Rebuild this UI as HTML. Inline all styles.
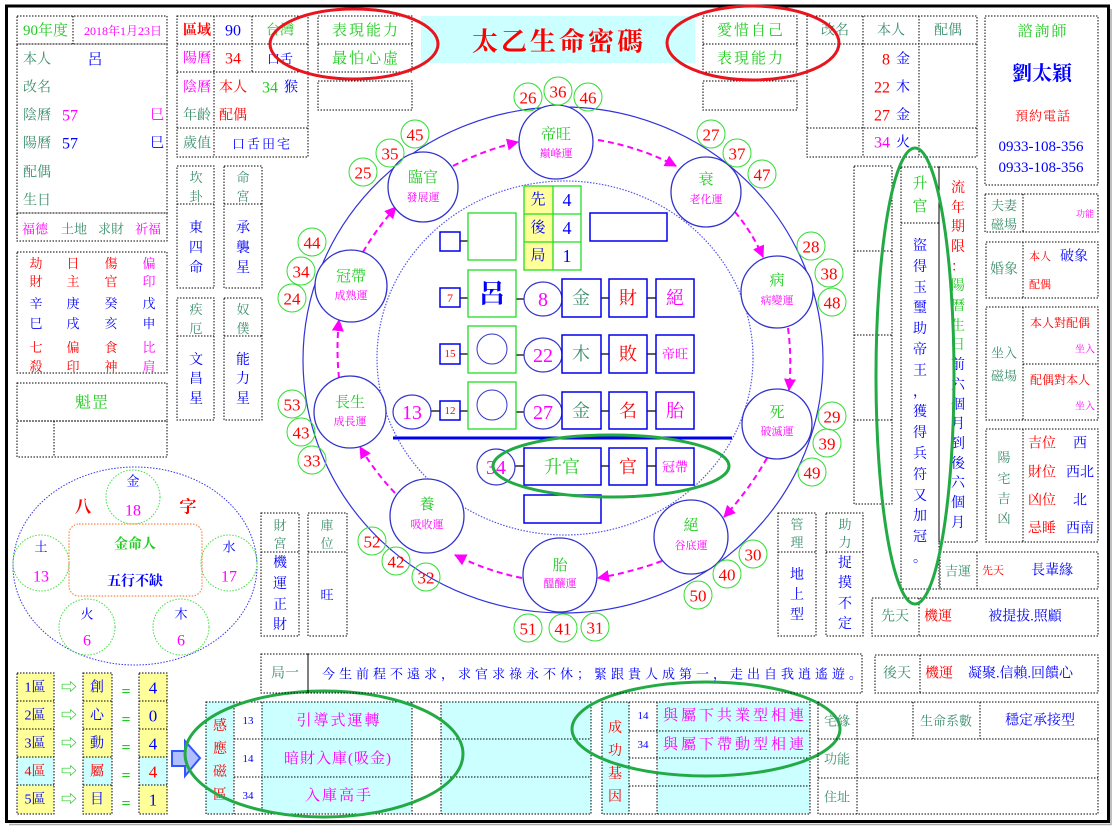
<!DOCTYPE html>
<html><head><meta charset="utf-8">
<style>
html,body{margin:0;padding:0;background:#fff;}
svg{display:block;}
text{font-family:"Liberation Serif","Noto Serif CJK SC",serif;dominant-baseline:central;}
.c{text-anchor:middle}
.e{text-anchor:end}
.tl{fill:#3d8f6d}
.g{fill:#22cc22}
.r{fill:#ff0000}
.m{fill:#ff00ff}
.b{fill:#0000ff}
.d{fill:none;stroke:#000;stroke-width:1;stroke-dasharray:1.5 1.5}
.nc{fill:none;stroke:#33dd33;stroke-width:1}
.nd{fill:#fff;stroke:#3333cc;stroke-width:1.3}
.bx{fill:#fff;stroke:#0000ee;stroke-width:1.5}
.gb{fill:#fff;stroke:#22dd22;stroke-width:1.3}
.ln{stroke:#000;stroke-width:1.2}
.ar{fill:none;stroke:#ff00ff;stroke-width:2;stroke-dasharray:6 4}
</style></head>
<body>
<svg width="1115" height="833" viewBox="0 0 1115 833" xmlns="http://www.w3.org/2000/svg">
<defs>
<marker id="ah" markerUnits="userSpaceOnUse" markerWidth="12" markerHeight="12" refX="11" refY="6" orient="auto">
<path d="M0,0 L12,6 L0,12 Z" fill="#ff00ff"/>
</marker>
</defs>
<rect x="0" y="0" width="1115" height="833" fill="#fff"/>
<rect x="6.5" y="6" width="1102" height="815.5" fill="none" stroke="#000" stroke-width="3"/>
<path d="M9 824.5H1111V9" fill="none" stroke="#aaa" stroke-width="1.5"/>

<!-- ===== TOP LEFT ===== -->
<rect class="d" x="17" y="16" width="150" height="28"/>
<path class="d" d="M73 16V44"/>
<text x="23" y="31" class="g" font-size="15">90年度</text>
<text x="123" y="31" class="c m" font-size="12">2018年1月23日</text>
<rect class="d" x="17" y="44" width="150" height="169"/>
<text x="23" y="60" class="tl" font-size="14">本人</text>
<text x="95" y="60" class="c b" font-size="15">呂</text>
<text x="23" y="88" class="tl" font-size="14">改名</text>
<text x="23" y="116" class="tl" font-size="14">陰曆</text>
<text x="62" y="116" class="m" font-size="16">57</text>
<text x="150" y="116" class="m" font-size="14">巳</text>
<text x="23" y="144" class="tl" font-size="14">陽曆</text>
<text x="62" y="144" class="b" font-size="16">57</text>
<text x="150" y="144" class="b" font-size="14">巳</text>
<text x="23" y="173" class="tl" font-size="14">配偶</text>
<text x="23" y="201" class="tl" font-size="14">生日</text>
<rect class="d" x="17" y="213" width="150" height="28"/>
<text x="22" y="229" class="m" font-size="13">福德</text>
<text x="61" y="229" class="tl" font-size="13">土地</text>
<text x="98" y="229" class="tl" font-size="13">求財</text>
<text x="135" y="229" class="m" font-size="13">祈福</text>

<!-- region box -->
<rect class="d" x="177" y="16" width="131" height="141"/>
<path class="d" d="M177 44H308M177 72H308M177 128H308M214 16V157M252 16V72"/>
<text x="183" y="31" class="r" font-size="14" font-weight="bold">區域</text>
<text x="233" y="31" class="c b" font-size="16">90</text>
<text x="280" y="31" class="c g" font-size="14">台灣</text>
<text x="183" y="59" class="m" font-size="14">陽曆</text>
<text x="233" y="59" class="c r" font-size="16">34</text>
<text x="280" y="59" class="c b" font-size="13">口舌</text>
<text x="183" y="88" class="m" font-size="14">陰曆</text>
<text x="219" y="88" class="r" font-size="14">本人</text>
<text x="270" y="88" class="c g" font-size="16">34</text>
<text x="291" y="88" class="c b" font-size="14">猴</text>
<text x="183" y="116" class="tl" font-size="14">年齡</text>
<text x="219" y="116" class="r" font-size="14">配偶</text>
<text x="183" y="144" class="tl" font-size="14">歲值</text>
<text x="262" y="144" class="c b" font-size="13" letter-spacing="2">口舌田宅</text>

<rect class="d" x="318" y="16" width="94" height="56"/>
<path class="d" d="M318 44H412"/>
<text x="366" y="31" class="c g" font-size="15" letter-spacing="2">表現能力</text>
<text x="366" y="59" class="c g" font-size="15" letter-spacing="2">最怕心虛</text>
<rect class="d" x="318" y="81" width="94" height="29"/>

<!-- title -->
<rect x="421" y="16" width="274" height="47" fill="#ccffff"/>
<text x="559" y="42" class="c r" font-size="26" font-weight="bold" letter-spacing="3">太乙生命密碼</text>

<rect class="d" x="703" y="16" width="94" height="56"/>
<path class="d" d="M703 44H797"/>
<text x="751" y="31" class="c g" font-size="15" letter-spacing="2">愛惜自己</text>
<text x="751" y="59" class="c g" font-size="15" letter-spacing="2">表現能力</text>
<rect class="d" x="703" y="81" width="94" height="29"/>

<!-- name box -->
<rect class="d" x="807" y="16" width="170" height="141"/>
<path class="d" d="M807 44H977M807 128H977M863 16V157M919 16V157"/>
<text x="835" y="31" class="c tl" font-size="14">改名</text>
<text x="891" y="31" class="c tl" font-size="14">本人</text>
<text x="948" y="31" class="c tl" font-size="14">配偶</text>
<text x="890" y="60" class="e r" font-size="16">8</text>
<text x="896" y="60" class="b" font-size="14">金</text>
<text x="890" y="88" class="e r" font-size="16">22</text>
<text x="896" y="88" class="b" font-size="14">木</text>
<text x="890" y="116" class="e r" font-size="16">27</text>
<text x="896" y="116" class="b" font-size="14">金</text>
<text x="890" y="143" class="e m" font-size="16">34</text>
<text x="896" y="143" class="b" font-size="14">火</text>

<!-- consultant -->
<rect class="d" x="985" y="16" width="113" height="169"/>
<text x="1043" y="32" class="c g" font-size="15" letter-spacing="2">諮詢師</text>
<text x="1042" y="74" class="c b" font-size="20" font-weight="bold">劉太穎</text>
<text x="1043" y="116" class="c r" font-size="13" letter-spacing="1">預約電話</text>
<text x="1041" y="147" class="c b" font-size="15">0933-108-356</text>
<text x="1041" y="168" class="c b" font-size="15">0933-108-356</text>

<!-- red ellipses -->
<ellipse cx="354" cy="44" rx="84" ry="35" fill="none" stroke="#e8141e" stroke-width="3"/>
<ellipse cx="753" cy="43" rx="86" ry="37" fill="none" stroke="#e8141e" stroke-width="3"/>

<!-- ===== LEFT COLUMN ===== -->
<rect class="d" x="177" y="166" width="37" height="122"/>
<path class="d" d="M177 204H214"/>
<text class="c tl" font-size="13"><tspan x="196" y="177">坎</tspan><tspan x="196" y="196">卦</tspan></text>
<text class="c b" font-size="14"><tspan x="196" y="228">東</tspan><tspan x="196" y="248">四</tspan><tspan x="196" y="268">命</tspan></text>
<rect class="d" x="224" y="166" width="38" height="122"/>
<path class="d" d="M224 204H262"/>
<text class="c tl" font-size="13"><tspan x="243" y="177">命</tspan><tspan x="243" y="196">宮</tspan></text>
<text class="c b" font-size="14"><tspan x="243" y="228">承</tspan><tspan x="243" y="248">襲</tspan><tspan x="243" y="268">星</tspan></text>

<rect class="d" x="177" y="298" width="37" height="122"/>
<path class="d" d="M177 336H214"/>
<text class="c tl" font-size="13"><tspan x="196" y="309">疾</tspan><tspan x="196" y="328">厄</tspan></text>
<text class="c b" font-size="14"><tspan x="196" y="360">文</tspan><tspan x="196" y="379">昌</tspan><tspan x="196" y="399">星</tspan></text>
<rect class="d" x="224" y="298" width="38" height="122"/>
<path class="d" d="M224 336H262"/>
<text class="c tl" font-size="13"><tspan x="243" y="309">奴</tspan><tspan x="243" y="328">僕</tspan></text>
<text class="c b" font-size="14"><tspan x="243" y="360">能</tspan><tspan x="243" y="379">力</tspan><tspan x="243" y="399">星</tspan></text>

<!-- bazi table -->
<rect class="d" x="17" y="252" width="150" height="121"/>
<g font-size="13" class="c">
<text class="r"><tspan x="36" y="263">劫</tspan><tspan x="36" y="281">財</tspan></text>
<text class="r"><tspan x="73" y="263">日</tspan><tspan x="73" y="281">主</tspan></text>
<text class="r"><tspan x="111" y="263">傷</tspan><tspan x="111" y="281">官</tspan></text>
<text class="m"><tspan x="149" y="263">偏</tspan><tspan x="149" y="281">印</tspan></text>
<text class="b"><tspan x="36" y="303">辛</tspan><tspan x="36" y="323">巳</tspan></text>
<text class="b"><tspan x="73" y="303">庚</tspan><tspan x="73" y="323">戌</tspan></text>
<text class="b"><tspan x="111" y="303">癸</tspan><tspan x="111" y="323">亥</tspan></text>
<text class="b"><tspan x="149" y="303">戊</tspan><tspan x="149" y="323">申</tspan></text>
<text class="r"><tspan x="36" y="347">七</tspan><tspan x="36" y="366">殺</tspan></text>
<text class="r"><tspan x="73" y="347">偏</tspan><tspan x="73" y="366">印</tspan></text>
<text class="r"><tspan x="111" y="347">食</tspan><tspan x="111" y="366">神</tspan></text>
<text class="m"><tspan x="149" y="347">比</tspan><tspan x="149" y="366">肩</tspan></text>
</g>
<rect class="d" x="17" y="383" width="150" height="38"/>
<text x="92" y="403" class="c g" font-size="16" letter-spacing="1">魁罡</text>
<rect class="d" x="17" y="421" width="150" height="36"/>
<path class="d" d="M54 421V457"/>

<!-- bazi circle -->
<ellipse cx="135" cy="566" rx="122" ry="99" fill="none" stroke="#3333ee" stroke-width="1" stroke-dasharray="1.5 1.5"/>
<g fill="none" stroke="#44dd44" stroke-width="1" stroke-dasharray="1.5 1.5">
<circle cx="133" cy="497" r="27"/>
<circle cx="41" cy="563" r="28"/>
<circle cx="229" cy="563" r="28"/>
<circle cx="87" cy="627" r="28"/>
<circle cx="181" cy="627" r="28"/>
</g>
<rect x="69" y="524" width="133" height="72" rx="10" fill="none" stroke="#ff8844" stroke-width="1.2" stroke-dasharray="1.5 1.5"/>
<text x="133" y="481" class="c b" font-size="13">金</text>
<text x="133" y="511" class="c m" font-size="16">18</text>
<text x="41" y="547" class="c b" font-size="13">土</text>
<text x="41" y="577" class="c m" font-size="16">13</text>
<text x="229" y="547" class="c b" font-size="13">水</text>
<text x="229" y="577" class="c m" font-size="16">17</text>
<text x="87" y="614" class="c b" font-size="13">火</text>
<text x="87" y="641" class="c m" font-size="16">6</text>
<text x="181" y="614" class="c b" font-size="13">木</text>
<text x="181" y="641" class="c m" font-size="16">6</text>
<text x="83" y="507" class="c r" font-size="17" font-weight="bold">八</text>
<text x="188" y="507" class="c r" font-size="17" font-weight="bold">字</text>
<text x="135" y="545" class="c g" font-size="14" font-weight="bold">金命人</text>
<text x="135" y="582" class="c b" font-size="14" font-weight="bold">五行不缺</text>

<!-- bottom left -->
<g>
<rect x="17" y="673" width="37" height="84" fill="#ffff99"/><rect x="17" y="757" width="37" height="28" fill="#ccffff"/><rect x="17" y="785" width="37" height="29" fill="#ffff99"/>
<rect x="83" y="673" width="29" height="84" fill="#ffff99"/><rect x="83" y="757" width="29" height="28" fill="#ccffff"/><rect x="83" y="785" width="29" height="29" fill="#ffff99"/>
<rect x="139" y="673" width="28" height="84" fill="#ffff99"/><rect x="139" y="757" width="28" height="28" fill="#ccffff"/><rect x="139" y="785" width="28" height="29" fill="#ffff99"/>
<rect class="d" x="17" y="673" width="37" height="141"/><path class="d" d="M17 701H54M17 729H54M17 757H54M17 785H54"/>
<rect class="d" x="83" y="673" width="29" height="141"/><path class="d" d="M83 701H112M83 729H112M83 757H112M83 785H112"/>
<rect class="d" x="139" y="673" width="28" height="141"/><path class="d" d="M139 701H167M139 729H167M139 757H167M139 785H167"/>
</g>
<g font-size="14" class="c">
<text x="35" y="688" class="b">1區</text><text x="35" y="716" class="b">2區</text><text x="35" y="744" class="b">3區</text><text x="35" y="772" class="r">4區</text><text x="35" y="800" class="b">5區</text>
<text x="69" y="688" class="g" font-size="16">⇨</text><text x="69" y="716" class="g" font-size="16">⇨</text><text x="69" y="744" class="g" font-size="16">⇨</text><text x="69" y="772" class="g" font-size="16">⇨</text><text x="69" y="800" class="g" font-size="16">⇨</text>
<text x="97" y="688" class="b">創</text><text x="97" y="716" class="b">心</text><text x="97" y="744" class="b">動</text><text x="97" y="772" class="r">屬</text><text x="97" y="800" class="b">目</text>
<text x="126" y="692" class="g" font-size="16" font-weight="bold">=</text><text x="126" y="720" class="g" font-size="16" font-weight="bold">=</text><text x="126" y="748" class="g" font-size="16" font-weight="bold">=</text><text x="126" y="776" class="g" font-size="16" font-weight="bold">=</text><text x="126" y="804" class="g" font-size="16" font-weight="bold">=</text>
<text x="153" y="688" class="b" font-size="17">4</text><text x="153" y="716" class="b" font-size="17">0</text><text x="153" y="744" class="b" font-size="17">4</text><text x="153" y="772" class="r" font-size="17">4</text><text x="153" y="800" class="b" font-size="17">1</text>
</g>
<polygon points="172,751 185,751 185,741 200,758 185,776 185,766 172,766" fill="#b0c0ff" stroke="#3355ff" stroke-width="2"/>

<!-- 感應磁區 table -->
<rect x="206" y="702" width="28" height="112" fill="#ccffff"/>
<rect x="262" y="702" width="150" height="112" fill="#ccffff"/>
<rect x="441" y="702" width="150" height="112" fill="#ccffff"/>
<rect class="d" x="206" y="702" width="385" height="112"/>
<path class="d" d="M234 702V814M262 702V814M412 702V814M441 702V814M234 739H591M234 777H591"/>
<text class="c r" font-size="14"><tspan x="220" y="726">感</tspan><tspan x="220" y="749">應</tspan><tspan x="220" y="772">磁</tspan><tspan x="220" y="795">區</tspan></text>
<text x="248" y="721" class="c b" font-size="11">13</text>
<text x="248" y="759" class="c b" font-size="11">14</text>
<text x="248" y="796" class="c b" font-size="11">34</text>
<text x="339" y="721" class="c m" font-size="15" letter-spacing="2">引導式運轉</text>
<text x="338" y="759" class="c m" font-size="15" letter-spacing="1">暗財入庫(吸金)</text>
<text x="339" y="796" class="c m" font-size="15" letter-spacing="2">入庫高手</text>
<ellipse cx="324" cy="754" rx="139" ry="63" fill="none" stroke="#22aa44" stroke-width="3"/>

<!-- 成功基因 table -->
<rect x="602" y="702" width="27" height="112" fill="#ccffff"/>
<rect x="657" y="702" width="153" height="112" fill="#ccffff"/>
<rect class="d" x="602" y="702" width="208" height="112"/>
<path class="d" d="M629 702V814M657 702V814M629 731H810M629 758H810M629 786H810"/>
<text class="c r" font-size="14"><tspan x="615" y="728">成</tspan><tspan x="615" y="751">功</tspan><tspan x="615" y="774">基</tspan><tspan x="615" y="797">因</tspan></text>
<text x="643" y="716" class="c b" font-size="11">14</text>
<text x="643" y="745" class="c b" font-size="11">34</text>
<text x="735" y="716" class="c m" font-size="15" letter-spacing="3">與屬下共業型相連</text>
<text x="735" y="745" class="c m" font-size="15" letter-spacing="3">與屬下帶動型相連</text>
<ellipse cx="706" cy="729" rx="134" ry="47" fill="none" stroke="#22aa44" stroke-width="3"/>

<!-- 宅緣 table -->
<rect class="d" x="818" y="702" width="280" height="112"/>
<path class="d" d="M857 702V814M913 702V739M980 702V739M818 739H1098M818 778H1098"/>
<text x="837" y="721" class="c tl" font-size="13">宅緣</text>
<text x="946" y="721" class="c tl" font-size="13">生命系數</text>
<text x="1040" y="721" class="c b" font-size="14">穩定承接型</text>
<text x="837" y="759" class="c tl" font-size="13">功能</text>
<text x="837" y="797" class="c tl" font-size="13">住址</text>

<!-- 局一 row -->
<rect class="d" x="261" y="654" width="47" height="39"/>
<rect class="d" x="308" y="654" width="554" height="39"/>
<text x="285" y="674" class="c tl" font-size="14">局一</text>
<text x="322" y="674" class="b" font-size="13" letter-spacing="4">今生前程不遠求，求官求祿永不休；緊跟貴人成第一，走出自我逍遙遊。</text>

<rect class="d" x="875" y="655" width="223" height="38"/>
<path class="d" d="M920 655V693"/>
<text x="897" y="674" class="c tl" font-size="14">後天</text>
<text x="925" y="674" class="r" font-size="14">機運</text>
<text x="968" y="674" class="b" font-size="14">凝聚.信賴.回饋心</text>

<!-- 財宮/庫位 -->
<rect class="d" x="261" y="513" width="38" height="123"/>
<path class="d" d="M261 552H299"/>
<text class="c tl" font-size="13"><tspan x="280" y="525">財</tspan><tspan x="280" y="543">宮</tspan></text>
<text class="c b" font-size="14"><tspan x="280" y="563">機</tspan><tspan x="280" y="584">運</tspan><tspan x="280" y="605">正</tspan><tspan x="280" y="625">財</tspan></text>
<rect class="d" x="308" y="513" width="39" height="123"/>
<path class="d" d="M308 552H347"/>
<text class="c tl" font-size="13"><tspan x="327" y="525">庫</tspan><tspan x="327" y="543">位</tspan></text>
<text x="327" y="595" class="c b" font-size="13">旺</text>

<!-- 管理/助力 -->
<rect class="d" x="778" y="513" width="38" height="123"/>
<path class="d" d="M778 552H816"/>
<text class="c tl" font-size="13"><tspan x="797" y="524">管</tspan><tspan x="797" y="542">理</tspan></text>
<text class="c b" font-size="14"><tspan x="797" y="575">地</tspan><tspan x="797" y="595">上</tspan><tspan x="797" y="615">型</tspan></text>
<rect class="d" x="826" y="513" width="37" height="123"/>
<path class="d" d="M826 552H863"/>
<text class="c tl" font-size="13"><tspan x="845" y="524">助</tspan><tspan x="845" y="542">力</tspan></text>
<text class="c b" font-size="14"><tspan x="845" y="563">捉</tspan><tspan x="845" y="583">摸</tspan><tspan x="845" y="604">不</tspan><tspan x="845" y="624">定</tspan></text>

<!-- ===== RIGHT COLUMN ===== -->
<rect class="d" x="854" y="166" width="38" height="338"/>
<path class="d" d="M854 251H892M854 335H892M854 420H892"/>

<rect class="d" x="901" y="167" width="38" height="422"/>
<path class="d" d="M901 223H939"/>
<text class="c g" font-size="15"><tspan x="920" y="184">升</tspan><tspan x="920" y="207">官</tspan></text>
<text class="c b" font-size="14">
<tspan x="920" y="246">盜</tspan><tspan x="920" y="267">得</tspan><tspan x="920" y="288">玉</tspan><tspan x="920" y="308">璽</tspan><tspan x="920" y="329">助</tspan><tspan x="920" y="350">帝</tspan><tspan x="920" y="371">王</tspan><tspan x="920" y="392">，</tspan><tspan x="920" y="412">獲</tspan><tspan x="920" y="433">得</tspan><tspan x="920" y="454">兵</tspan><tspan x="920" y="475">符</tspan><tspan x="920" y="496">又</tspan><tspan x="920" y="516">加</tspan><tspan x="920" y="537">冠</tspan><tspan x="920" y="558">。</tspan>
</text>

<rect class="d" x="939" y="167" width="38" height="375"/>
<text class="c" font-size="14">
<tspan x="958" y="188" class="r">流</tspan><tspan x="958" y="208" class="r">年</tspan><tspan x="958" y="227" class="r">期</tspan><tspan x="958" y="247" class="r">限</tspan><tspan x="958" y="267" class="r">：</tspan><tspan x="958" y="286" class="g">陽</tspan><tspan x="958" y="306" class="g">曆</tspan><tspan x="958" y="326" class="g">生</tspan><tspan x="958" y="345" class="g">日</tspan><tspan x="958" y="365" class="b">前</tspan><tspan x="958" y="385" class="b">六</tspan><tspan x="958" y="405" class="b">個</tspan><tspan x="958" y="424" class="b">月</tspan><tspan x="958" y="444" class="b">到</tspan><tspan x="958" y="464" class="b">後</tspan><tspan x="958" y="483" class="b">六</tspan><tspan x="958" y="503" class="b">個</tspan><tspan x="958" y="523" class="b">月</tspan>
</text>

<rect class="d" x="940" y="552" width="158" height="37"/>
<path class="d" d="M977 552V589"/>
<text x="958" y="571" class="c tl" font-size="13">吉運</text>
<text x="982" y="571" class="r" font-size="11">先天</text>
<text x="1052" y="571" class="c b" font-size="14">長輩緣</text>

<rect class="d" x="872" y="598" width="226" height="38"/>
<path class="d" d="M919 598V636"/>
<text x="895" y="617" class="c tl" font-size="14">先天</text>
<text x="924" y="617" class="r" font-size="14">機運</text>
<text x="1025" y="617" class="c b" font-size="14">被提拔.照顧</text>

<rect class="d" x="985" y="194" width="113" height="38"/>
<path class="d" d="M1023 194V232"/>
<text class="c tl" font-size="13"><tspan x="1004" y="205">夫妻</tspan><tspan x="1004" y="224">磁場</tspan></text>
<text x="1085" y="214" class="c m" font-size="9">功能</text>

<rect class="d" x="986" y="242" width="112" height="56"/>
<path class="d" d="M1023 242V298"/>
<text x="1004" y="270" class="c tl" font-size="14">婚象</text>
<text x="1029" y="257" class="r" font-size="11">本人</text>
<text x="1074" y="257" class="c b" font-size="14">破象</text>
<text x="1029" y="285" class="r" font-size="11">配偶</text>

<rect class="d" x="986" y="307" width="112" height="113"/>
<path class="d" d="M1023 307V420M1023 364H1098"/>
<text x="1004" y="353" class="c tl" font-size="13">坐入</text>
<text x="1004" y="376" class="c tl" font-size="13">磁場</text>
<text x="1060" y="323" class="c r" font-size="12">本人對配偶</text>
<text x="1095" y="350" class="e m" font-size="10">坐入</text>
<text x="1060" y="380" class="c r" font-size="12">配偶對本人</text>
<text x="1095" y="407" class="e m" font-size="10">坐入</text>

<rect class="d" x="986" y="429" width="112" height="113"/>
<path class="d" d="M1023 429V542"/>
<text class="c tl" font-size="13"><tspan x="1004" y="457">陽</tspan><tspan x="1004" y="478">宅</tspan><tspan x="1004" y="498">吉</tspan><tspan x="1004" y="518">凶</tspan></text>
<text x="1042" y="444" class="c r" font-size="14">吉位</text><text x="1080" y="444" class="c b" font-size="14">西</text>
<text x="1042" y="473" class="c r" font-size="14">財位</text><text x="1080" y="473" class="c b" font-size="14">西北</text>
<text x="1042" y="501" class="c r" font-size="14">凶位</text><text x="1080" y="501" class="c b" font-size="14">北</text>
<text x="1042" y="529" class="c r" font-size="14">忌睡</text><text x="1080" y="529" class="c b" font-size="14">西南</text>

<ellipse cx="915" cy="376" rx="39" ry="228" fill="none" stroke="#22aa44" stroke-width="3"/>

<!-- ===== CENTER WHEEL ===== -->
<ellipse cx="563" cy="360" rx="260" ry="253" fill="none" stroke="#3333dd" stroke-width="1.2"/>
<ellipse cx="565" cy="358" rx="188" ry="177" fill="none" stroke="#5555ee" stroke-width="1.2" stroke-dasharray="1.5 1.5"/>

<!-- arrows -->
<path class="ar" d="M453 166 Q484 150 518 142" marker-end="url(#ah)"/>
<path class="ar" d="M598 140 Q640 147 676 166" marker-end="url(#ah)"/>
<path class="ar" d="M735 212 Q752 232 763 257" marker-end="url(#ah)"/>
<path class="ar" d="M788 328 Q792 358 789 390" marker-end="url(#ah)"/>
<path class="ar" d="M767 458 Q749 490 724 517" marker-end="url(#ah)"/>
<path class="ar" d="M662 561 Q632 572 598 578" marker-end="url(#ah)"/>
<path class="ar" d="M522 578 Q487 571 455 555" marker-end="url(#ah)"/>
<path class="ar" d="M395 493 Q375 472 360 447" marker-end="url(#ah)"/>
<path class="ar" d="M339 378 Q336 349 339 320" marker-end="url(#ah)"/>
<path class="ar" d="M363 252 Q377 228 396 207" marker-end="url(#ah)"/>

<!-- nodes -->
<g>
<circle class="nd" cx="556" cy="142" r="37"/>
<circle class="nd" cx="706" cy="192" r="35"/>
<circle class="nd" cx="777" cy="292" r="36"/>
<circle class="nd" cx="777" cy="424" r="35"/>
<circle class="nd" cx="691" cy="537" r="37"/>
<circle class="nd" cx="560" cy="575" r="37"/>
<circle class="nd" cx="427" cy="516" r="37"/>
<circle class="nd" cx="350" cy="412" r="36"/>
<circle class="nd" cx="351" cy="286" r="36"/>
<circle class="nd" cx="423" cy="187" r="35"/>
</g>
<g class="c">
<text x="556" y="135" class="g" font-size="15">帝旺</text><text x="556" y="154" class="m" font-size="11">巔峰運</text>
<text x="706" y="180" class="g" font-size="15">衰</text><text x="706" y="200" class="m" font-size="11">老化運</text>
<text x="777" y="281" class="g" font-size="15">病</text><text x="777" y="301" class="m" font-size="11">病變運</text>
<text x="777" y="413" class="g" font-size="15">死</text><text x="777" y="432" class="m" font-size="11">破滅運</text>
<text x="691" y="526" class="g" font-size="15">絕</text><text x="691" y="546" class="m" font-size="11">谷底運</text>
<text x="560" y="566" class="g" font-size="15">胎</text><text x="560" y="584" class="m" font-size="11">醞釀運</text>
<text x="427" y="505" class="g" font-size="15">養</text><text x="427" y="525" class="m" font-size="11">吸收運</text>
<text x="350" y="403" class="g" font-size="15">長生</text><text x="350" y="422" class="m" font-size="11">成長運</text>
<text x="351" y="277" class="g" font-size="15">冠帶</text><text x="351" y="296" class="m" font-size="11">成熟運</text>
<text x="423" y="178" class="g" font-size="15">臨官</text><text x="423" y="198" class="m" font-size="11">發展運</text>
</g>

<!-- number circles -->
<g>
<circle class="nc" cx="528" cy="97" r="14"/><circle class="nc" cx="558" cy="91" r="14"/><circle class="nc" cx="588" cy="97" r="14"/>
<circle class="nc" cx="363" cy="172" r="14"/><circle class="nc" cx="390" cy="153" r="14"/><circle class="nc" cx="415" cy="134" r="14"/>
<circle class="nc" cx="312" cy="242" r="14"/><circle class="nc" cx="301" cy="271" r="14"/><circle class="nc" cx="292" cy="298" r="14"/>
<circle class="nc" cx="292" cy="404" r="14"/><circle class="nc" cx="301" cy="432" r="14"/><circle class="nc" cx="312" cy="460" r="14"/>
<circle class="nc" cx="372" cy="541" r="14"/><circle class="nc" cx="396" cy="561" r="14"/><circle class="nc" cx="426" cy="577" r="14"/>
<circle class="nc" cx="528" cy="628" r="14"/><circle class="nc" cx="563" cy="628" r="14"/><circle class="nc" cx="595" cy="627" r="14"/>
<circle class="nc" cx="753" cy="554" r="14"/><circle class="nc" cx="727" cy="574" r="14"/><circle class="nc" cx="698" cy="595" r="14"/>
<circle class="nc" cx="832" cy="416" r="14"/><circle class="nc" cx="827" cy="443" r="14"/><circle class="nc" cx="812" cy="472" r="14"/>
<circle class="nc" cx="811" cy="246" r="14"/><circle class="nc" cx="829" cy="273" r="14"/><circle class="nc" cx="832" cy="302" r="14"/>
<circle class="nc" cx="711" cy="134" r="14"/><circle class="nc" cx="737" cy="153" r="14"/><circle class="nc" cx="762" cy="174" r="14"/>
</g>
<g class="c r" font-size="17">
<text x="528" y="98">26</text><text x="558" y="92">36</text><text x="588" y="98">46</text>
<text x="363" y="173">25</text><text x="390" y="154">35</text><text x="415" y="135">45</text>
<text x="312" y="243">44</text><text x="301" y="272">34</text><text x="292" y="299">24</text>
<text x="292" y="405">53</text><text x="301" y="433">43</text><text x="312" y="461">33</text>
<text x="372" y="542">52</text><text x="396" y="562">42</text><text x="426" y="578">32</text>
<text x="528" y="629">51</text><text x="563" y="629">41</text><text x="595" y="628">31</text>
<text x="753" y="555">30</text><text x="727" y="575">40</text><text x="698" y="596">50</text>
<text x="832" y="417">29</text><text x="827" y="444">39</text><text x="812" y="473">49</text>
<text x="811" y="247">28</text><text x="829" y="274">38</text><text x="832" y="303">48</text>
<text x="711" y="135">27</text><text x="737" y="154">37</text><text x="762" y="175">47</text>
</g>

<!-- inner table 先後局 -->
<rect x="524" y="186" width="29" height="84" fill="#ffff99"/>
<rect x="524" y="186" width="57" height="84" fill="none" stroke="#22dd22" stroke-width="1.3"/>
<path d="M553 186V270M524 214H581M524 242H581" stroke="#22dd22" stroke-width="1.3"/>
<text x="538" y="200" class="c b" font-size="15">先</text><text x="567" y="200" class="c b" font-size="18">4</text>
<text x="538" y="228" class="c b" font-size="15">後</text><text x="567" y="228" class="c b" font-size="18">4</text>
<text x="538" y="256" class="c b" font-size="15">局</text><text x="567" y="256" class="c b" font-size="18">1</text>
<rect class="bx" x="590" y="213" width="77" height="28"/>

<!-- connector lines -->
<path class="ln" d="M460 241H468M460 298H468M516 299H524M601 298H609M647 298H656M460 354H468M516 355H524M601 354H609M647 354H656M431 411H440M460 411H468M516 412H524M601 411H609M647 411H656M515 466H524M601 466H609M647 466H656"/>

<!-- row0 -->
<rect class="bx" x="440" y="232" width="20" height="19"/>
<rect class="gb" x="468" y="213" width="48" height="47"/>
<!-- row1 -->
<rect class="bx" x="440" y="288" width="20" height="19"/>
<text x="450" y="298" class="c r" font-size="12">7</text>
<rect class="gb" x="468" y="270" width="48" height="47"/>
<text x="492" y="294" class="c b" font-size="26" font-weight="bold">呂</text>
<ellipse cx="543" cy="299" rx="19" ry="17" fill="#fff" stroke="#3333cc" stroke-width="1.2"/>
<text x="543" y="300" class="c m" font-size="20">8</text>
<rect class="bx" x="562" y="279" width="39" height="38"/><text x="581" y="298" class="c tl" font-size="18">金</text>
<rect class="bx" x="609" y="279" width="38" height="38"/><text x="628" y="298" class="c r" font-size="18">財</text>
<rect class="bx" x="656" y="279" width="38" height="38"/><text x="675" y="298" class="c m" font-size="18">絕</text>
<!-- row2 -->
<rect class="bx" x="440" y="344" width="20" height="20"/>
<text x="450" y="354" class="c r" font-size="11">15</text>
<rect class="gb" x="468" y="326" width="48" height="47"/>
<circle cx="492" cy="349" r="15" fill="none" stroke="#3333cc" stroke-width="1"/>
<ellipse cx="543" cy="355" rx="19" ry="17" fill="#fff" stroke="#3333cc" stroke-width="1.2"/>
<text x="543" y="356" class="c m" font-size="20">22</text>
<rect class="bx" x="562" y="335" width="39" height="38"/><text x="581" y="354" class="c tl" font-size="18">木</text>
<rect class="bx" x="609" y="335" width="38" height="38"/><text x="628" y="354" class="c r" font-size="18">敗</text>
<rect class="bx" x="656" y="335" width="38" height="38"/><text x="675" y="354" class="c m" font-size="13">帝旺</text>
<!-- row3 -->
<ellipse cx="412" cy="412" rx="19" ry="17" fill="#fff" stroke="#3333cc" stroke-width="1.2"/>
<text x="412" y="413" class="c m" font-size="20">13</text>
<rect class="bx" x="440" y="401" width="20" height="19"/>
<text x="450" y="411" class="c r" font-size="11">12</text>
<rect class="gb" x="468" y="382" width="48" height="47"/>
<circle cx="492" cy="405" r="15" fill="none" stroke="#3333cc" stroke-width="1"/>
<ellipse cx="543" cy="412" rx="19" ry="17" fill="#fff" stroke="#3333cc" stroke-width="1.2"/>
<text x="543" y="413" class="c m" font-size="20">27</text>
<rect class="bx" x="562" y="392" width="39" height="37"/><text x="581" y="411" class="c tl" font-size="18">金</text>
<rect class="bx" x="609" y="392" width="38" height="37"/><text x="628" y="411" class="c r" font-size="18">名</text>
<rect class="bx" x="656" y="392" width="38" height="37"/><text x="675" y="411" class="c m" font-size="18">胎</text>
<!-- divider -->
<path d="M393 438H732" stroke="#0000ee" stroke-width="3"/>
<!-- row4 -->
<ellipse cx="496" cy="467" rx="19" ry="18" fill="#fff" stroke="#3333cc" stroke-width="1.2"/>
<text x="496" y="468" class="c m" font-size="20">34</text>
<rect class="bx" x="524" y="448" width="77" height="37"/><text x="562" y="467" class="c g" font-size="18">升官</text>
<rect class="bx" x="609" y="448" width="38" height="37"/><text x="628" y="467" class="c r" font-size="18">官</text>
<rect class="bx" x="656" y="448" width="38" height="37"/><text x="675" y="467" class="c m" font-size="13">冠帶</text>
<rect class="bx" x="524" y="495" width="77" height="28"/>
<ellipse cx="611" cy="466" rx="118" ry="31" fill="none" stroke="#22aa44" stroke-width="3"/>
</svg>
</body></html>
